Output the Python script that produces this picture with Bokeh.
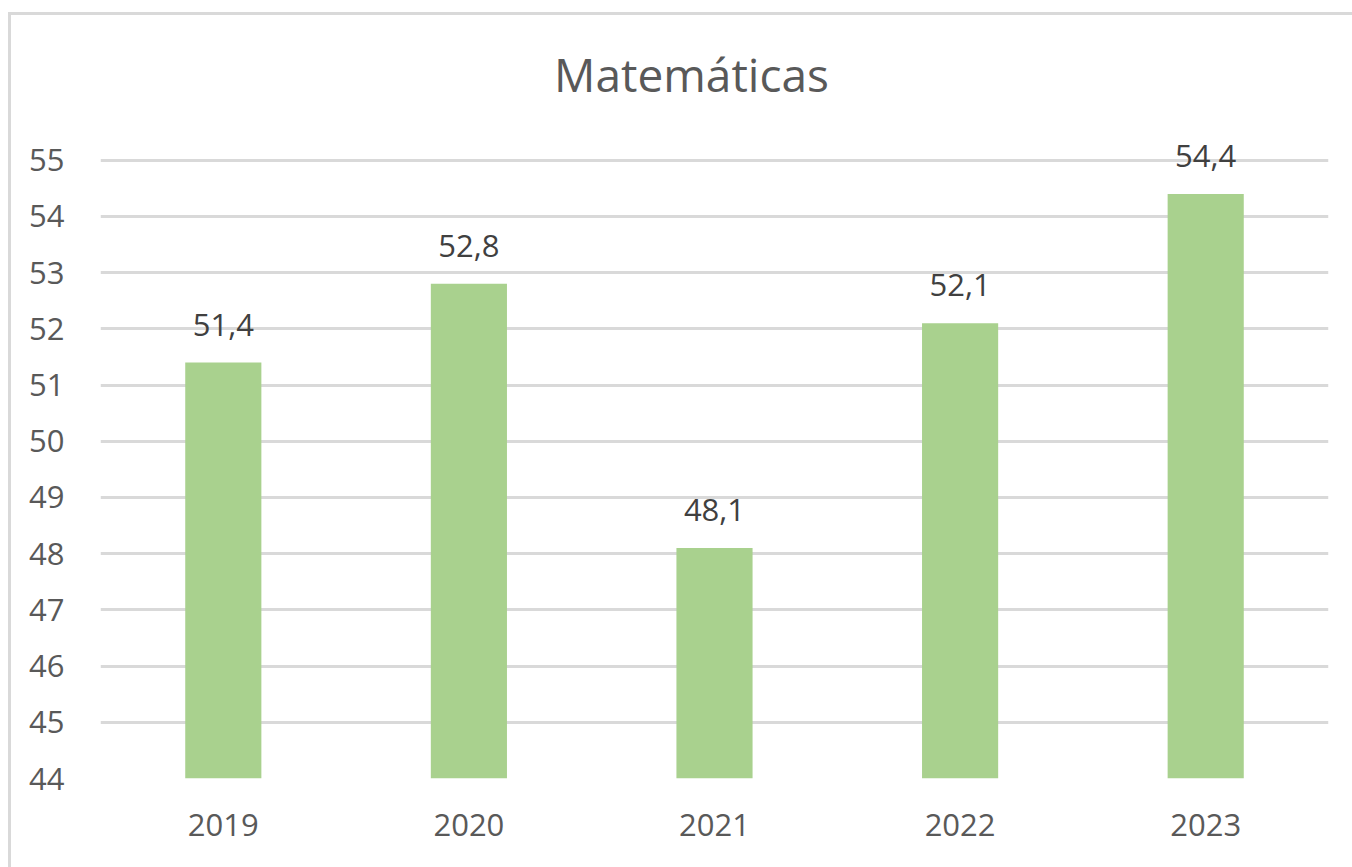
from bokeh.plotting import figure
from bokeh.models import ColumnDataSource, FactorRange, Range1d, FixedTicker, LabelSet, Label, InlineStyleSheet
from bokeh.core.properties import value
from bokeh.embed import file_html
from bokeh.resources import INLINE

# ---- data ----
years = ["2019", "2020", "2021", "2022", "2023"]
values = [51.4, 52.8, 48.1, 52.1, 54.4]
y_ticks = [44, 45, 46, 47, 48, 49, 50, 51, 52, 53, 54, 55]
title_text = "Matemáticas"

value_labels = [f"{v:.1f}".replace(".", ",") for v in values]
src = ColumnDataSource(dict(year=years, value=values, label=value_labels))

FONT = "Open Sans"
TXT = "#595959"

p = figure(
    x_range=FactorRange(*years),
    y_range=Range1d(y_ticks[0], 57.2),
    width=1352, height=867,
    output_backend="svg", toolbar_location=None,
    min_border_left=100, min_border_right=24,
    min_border_top=36, min_border_bottom=89,
)
p.x_range.range_padding = 0
p.outline_line_color = None
p.background_fill_color = "white"
p.border_fill_color = "white"

# chart-area frame (left and top edges visible, the rest runs off the page)
p.stylesheets = [InlineStyleSheet(css="""
:host::after {
  content: "";
  position: absolute;
  left: 8px; top: 12px; right: 0; bottom: 0;
  border-left: 3px solid #D9D9D9;
  border-top: 3px solid #D9D9D9;
  pointer-events: none;
  z-index: 10;
}
""")]

p.vbar(x="year", top="value", bottom=y_ticks[0], width=0.31, source=src,
       fill_color="#A9D18E", line_color=None)

# grid
p.xgrid.visible = False
p.ygrid.ticker = FixedTicker(ticks=y_ticks)
p.ygrid.grid_line_color = "#D9D9D9"
p.ygrid.grid_line_width = 3

# axes
for ax in (p.xaxis[0], p.yaxis[0]):
    ax.axis_line_color = None
    ax.major_tick_line_color = None
    ax.minor_tick_line_color = None
    ax.major_label_text_font = FONT
    ax.major_label_text_font_size = "31px"
    ax.major_label_text_color = TXT
p.yaxis[0].ticker = FixedTicker(ticks=y_ticks)
p.yaxis[0].major_label_standoff = 30
p.xaxis[0].major_label_standoff = 29

labels = LabelSet(x="year", y="value", text="label", source=src,
                  text_align="center", text_baseline="alphabetic", y_offset=27,
                  text_font=value(FONT), text_font_size=value("31px"),
                  text_color=value("#404040"))
p.add_layout(labels)

title = Label(x=591, y=705, x_units="screen", y_units="screen", text=title_text,
              text_align="center", text_baseline="alphabetic",
              text_font=FONT, text_font_size="46px", text_color=TXT)
p.add_layout(title)

open("out.html", "w").write(file_html(p, INLINE))
